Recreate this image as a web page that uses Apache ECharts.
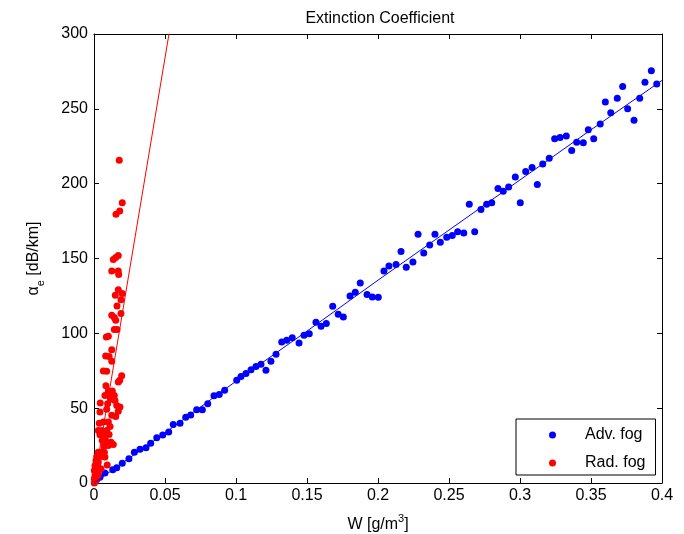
<!DOCTYPE html>
<html>
<head>
<meta charset="utf-8">
<script src="https://cdn.jsdelivr.net/npm/echarts@6/dist/echarts.min.js"></script>
<style>
  html, body { margin: 0; padding: 0; background: #fff; }
  #chart { width: 684px; height: 534px; }
</style>
</head>
<body>
<div id="chart"></div>
<script>
// Advection fog: liquid water content W [g/m^3] vs extinction coefficient [dB/km]
const advW = [
  0.0019, 0.0042, 0.0077, 0.0132, 0.0160, 0.0199, 0.0246, 0.0284, 0.0324, 0.0366,
  0.0399, 0.0442, 0.0484, 0.0526, 0.0558, 0.0606, 0.0646, 0.0681, 0.0723, 0.0763,
  0.0801, 0.0845, 0.0882, 0.0920, 0.1005, 0.1035, 0.1070, 0.1106, 0.1141, 0.1176,
  0.1211, 0.1246, 0.1282, 0.1322, 0.1357, 0.1396, 0.1444, 0.1479, 0.1516, 0.1563,
  0.1599, 0.1636, 0.1681, 0.1720, 0.1756, 0.1803, 0.1840, 0.1875, 0.1923, 0.1960,
  0.2002, 0.2042, 0.2077, 0.2127, 0.2162, 0.2199, 0.2246, 0.2282, 0.2322, 0.2364,
  0.2401, 0.2439, 0.2484, 0.2523, 0.2561, 0.2604, 0.2643, 0.2681, 0.2725, 0.2765,
  0.2801, 0.2845, 0.2882, 0.2920, 0.2967, 0.3002, 0.3040, 0.3085, 0.3122, 0.3160,
  0.3206, 0.3244, 0.3282, 0.3326, 0.3364, 0.3399, 0.3446, 0.3481, 0.3519, 0.3565,
  0.3601, 0.3639, 0.3685, 0.3723, 0.3758, 0.3803, 0.3843, 0.3880, 0.3925, 0.3963
];
const advAlpha = [
  2.3, 3.9, 6.6, 8.8, 10.2, 13.2, 16.2, 20.6, 22.6, 23.5,
  26.6, 30.2, 32.0, 34.0, 39.1, 40.0, 44.0, 45.4, 49.0, 49.0,
  53.0, 58.3, 59.2, 61.9, 68.6, 71.2, 73.2, 75.6, 77.9, 79.3,
  75.3, 81.3, 86.0, 94.2, 95.3, 97.1, 93.5, 98.7, 99.8, 107.4,
  104.7, 106.5, 118.1, 112.7, 110.9, 124.9, 127.4, 133.6, 125.9, 124.3,
  124.1, 141.7, 145.0, 146.0, 154.6, 144.1, 147.7, 166.2, 153.7, 159.1,
  166.2, 160.9, 164.2, 165.4, 167.8, 167.1, 186.3, 167.8, 182.7, 186.3,
  187.2, 196.8, 195.0, 197.7, 204.5, 187.2, 208.2, 210.8, 199.5, 213.2,
  216.9, 230.0, 230.9, 231.8, 222.2, 227.6, 227.3, 236.0, 230.0, 239.8,
  254.5, 247.4, 257.0, 265.0, 250.0, 242.3, 257.0, 267.7, 275.5, 266.6
];

// Radiation fog measurements
const radW = [
  0.0178, 0.0199, 0.0181, 0.0155, 0.0171, 0.0153, 0.0136, 0.0125, 0.0171, 0.0174,
  0.0171, 0.0199, 0.0150, 0.0190, 0.0162, 0.0190, 0.0125, 0.0153, 0.0143, 0.0143,
  0.0162, 0.0101, 0.0087, 0.0125, 0.0082, 0.0106, 0.0125, 0.0066, 0.0089, 0.0195,
  0.0181, 0.0171, 0.0101, 0.0129, 0.0077, 0.0143, 0.0113, 0.0148, 0.0044, 0.0096,
  0.0160, 0.0183, 0.0089, 0.0171, 0.0042, 0.0125, 0.0153, 0.0066, 0.0101, 0.0037,
  0.0113, 0.0030, 0.0054, 0.0089, 0.0042, 0.0073, 0.0106, 0.0058, 0.0082, 0.0120,
  0.0136, 0.0101, 0.0070, 0.0030, 0.0049, 0.0073, 0.0019, 0.0042, 0.0077, 0.0014,
  0.0030, 0.0007, 0.0026, 0.0049, 0.0002, 0.0019, 0.0030, 0.0007, 0.0002, 0.0012,
  0.0026, 0.0002, 0.0110, 0.0118, 0.0084, 0.0066, 0.0093
];
const radAlpha = [
  215.7, 187.2, 181.8, 179.6, 152.0, 150.6, 149.3, 141.7, 141.7, 139.3,
  129.2, 126.6, 125.4, 122.5, 118.3, 113.2, 112.0, 108.7, 110.5, 102.5,
  102.5, 98.0, 97.5, 89.1, 84.8, 84.6, 81.3, 74.8, 74.6, 71.7,
  68.6, 67.4, 61.4, 61.4, 58.5, 58.5, 57.4, 55.2, 53.4, 53.0,
  51.8, 50.7, 49.2, 48.0, 47.4, 45.2, 44.5, 40.7, 40.7, 40.0,
  37.8, 35.1, 35.1, 35.1, 32.2, 31.8, 32.4, 28.4, 28.4, 27.3,
  25.8, 25.1, 24.4, 20.6, 20.6, 20.6, 17.7, 17.3, 17.3, 15.1,
  13.9, 11.7, 10.6, 9.5, 8.4, 7.2, 6.2, 5.0, 2.8, 1.2,
  3.9, 0.0, 60.5, 56.0, 65.0, 19.0, 12.0
];

// Fitted lines
const advFitW = [0, 0.05, 0.10, 0.15, 0.20, 0.25, 0.30, 0.35, 0.40];
const advFitAlpha = [0, 33.5, 68.0, 101.5, 135.5, 169.0, 202.5, 236.0, 269.0];
const radFitW = [0, 0.0528];
const radFitAlpha = [0, 300];

const seriesNames = ['Adv. fog', 'Rad. fog'];
const chartTitle = 'Extinction Coefficient';

const pairs = (xs, ys) => xs.map((x, i) => [x, ys[i]]);

const FONT = 'Liberation Sans, Arial, Helvetica, sans-serif';
const FS = 16;
const chart = echarts.init(document.getElementById('chart'), null, { renderer: 'canvas' });

// shared style for the boxed frame: black lines, ticks pointing inwards
const frameAxis = () => ({
  axisLine: { show: true, onZero: false, lineStyle: { color: '#000', width: 1 } },
  axisTick: { show: true, inside: true, length: 5, lineStyle: { color: '#000' } },
  splitLine: { show: false }
});

chart.setOption({
  animation: false,
  backgroundColor: '#fff',
  textStyle: { fontFamily: FONT },
  title: {
    text: chartTitle,
    left: 375, top: 6, textAlign: 'center',
    textStyle: { fontFamily: FONT, fontSize: FS, fontWeight: 'normal', color: '#000' }
  },
  grid: {
    left: 94, right: 22, top: 34, bottom: 51,
    containLabel: false, outerBoundsMode: 'none'
  },
  xAxis: [
    Object.assign({
      type: 'value', position: 'bottom', min: 0, max: 0.4, interval: 0.05,
      axisLabel: { color: '#000', fontSize: FS, fontFamily: FONT, margin: 5 },
      name: 'W [g/m{sup|3}]',
      nameLocation: 'middle', nameGap: 30,
      nameTextStyle: {
        color: '#000', fontSize: FS, fontFamily: FONT, lineHeight: 24,
        rich: { sup: { fontSize: 11, lineHeight: 11, verticalAlign: 'top', color: '#000', fontFamily: FONT } }
      }
    }, frameAxis()),
    Object.assign({
      type: 'value', position: 'top', min: 0, max: 0.4, interval: 0.05,
      axisLabel: { show: false }
    }, frameAxis())
  ],
  yAxis: [
    Object.assign({
      type: 'value', position: 'left', min: 0, max: 300, interval: 50,
      axisLabel: { color: '#000', fontSize: FS, fontFamily: FONT, margin: 6 },
      name: '{a|α}{sub|e} [dB/km]',
      nameLocation: 'middle', nameGap: 48, nameRotate: 90,
      nameTextStyle: {
        color: '#000', fontSize: FS, fontFamily: FONT, lineHeight: 24,
        rich: {
          a: { fontSize: FS, lineHeight: 24, color: '#000', fontFamily: FONT },
          sub: { fontSize: 11, lineHeight: 11, verticalAlign: 'bottom', color: '#000', fontFamily: FONT }
        }
      }
    }, frameAxis()),
    Object.assign({
      type: 'value', position: 'right', min: 0, max: 300, interval: 50,
      axisLabel: { show: false }
    }, frameAxis())
  ],
  legend: {
    orient: 'vertical',
    left: 516, top: 419,
    data: seriesNames.map(n => ({ name: n, icon: 'circle' })),
    itemWidth: 7, itemHeight: 7, itemGap: 12,
    padding: [8, 10, 4, 33],
    borderColor: '#000', borderWidth: 1, backgroundColor: '#fff',
    textStyle: { color: '#000', fontSize: FS, fontFamily: FONT, padding: [0, 0, 0, 24] }
  },
  series: [
    {
      name: seriesNames[0], type: 'scatter', symbol: 'circle', symbolSize: 7,
      itemStyle: { color: '#0000ff', opacity: 1 }, data: pairs(advW, advAlpha), z: 3
    },
    {
      name: seriesNames[1], type: 'scatter', symbol: 'circle', symbolSize: 7,
      itemStyle: { color: '#ff0000', opacity: 1 }, data: pairs(radW, radAlpha), z: 3
    },
    {
      name: 'adv-fit', type: 'line', showSymbol: false, symbol: 'none', clip: true,
      lineStyle: { color: '#0000ff', width: 1 }, data: pairs(advFitW, advFitAlpha), z: 4
    },
    {
      name: 'rad-fit', type: 'line', showSymbol: false, symbol: 'none', clip: true,
      lineStyle: { color: '#ff0000', width: 1 }, data: pairs(radFitW, radFitAlpha), z: 4
    }
  ]
});
</script>
</body>
</html>
